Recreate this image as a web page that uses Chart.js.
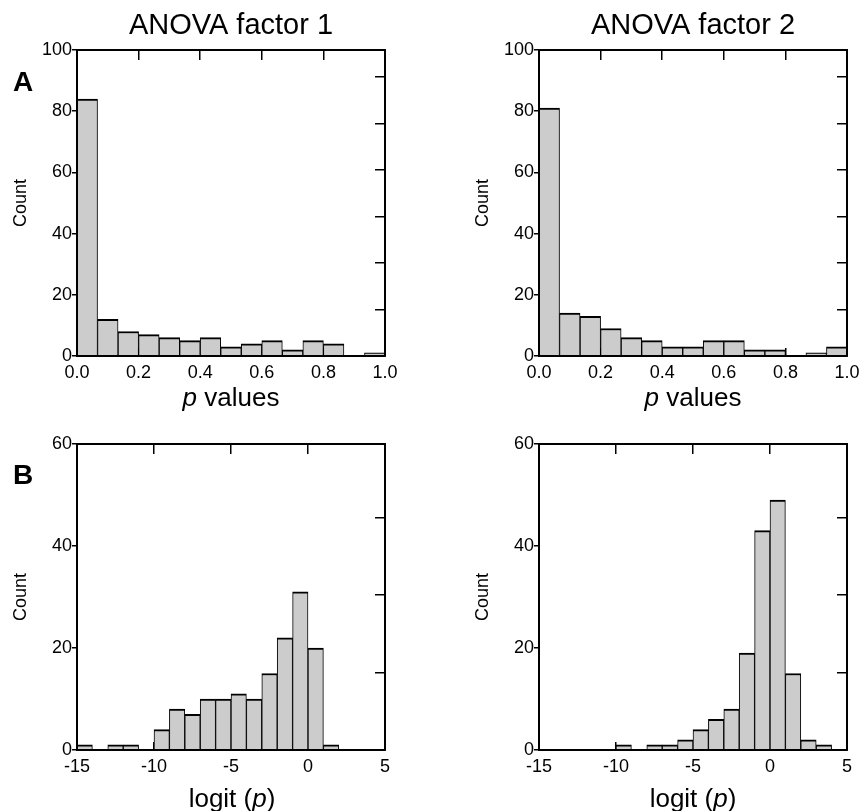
<!DOCTYPE html>
<html>
<head>
<meta charset="utf-8">
<script src="https://cdn.jsdelivr.net/npm/chart.js@4.4.1/dist/chart.umd.min.js"></script>
<style>
  body { margin: 0; background: #fff; }
  #page { position: relative; width: 861px; height: 811px; font-family: 'Liberation Sans', Arial, sans-serif; color: #000; }
  canvas { position: absolute; }
  .lbl { position: absolute; white-space: nowrap; line-height: 1; }
  .axis-title { font-size: 26px; transform: translateX(-50%); }
  .panel-letter { font-size: 28px; font-weight: bold; left: 13px; }
</style>
</head>
<body>
<div id="page">
  <canvas id="chart-tl" width="430" height="420" style="left:0;top:0"></canvas>
  <canvas id="chart-tr" width="431" height="420" style="left:430px;top:0"></canvas>
  <canvas id="chart-bl" width="430" height="391" style="left:0;top:420px"></canvas>
  <canvas id="chart-br" width="431" height="391" style="left:430px;top:420px"></canvas>

  <div class="lbl panel-letter" style="top:68px">A</div>
  <div class="lbl panel-letter" style="top:461px">B</div>

  <div class="lbl axis-title" style="left:231px;top:384px"><i>p</i> values</div>
  <div class="lbl axis-title" style="left:693px;top:384px"><i>p</i> values</div>
  <div class="lbl axis-title" style="left:232px;top:785px">logit (<i>p</i>)</div>
  <div class="lbl axis-title" style="left:693px;top:785px">logit (<i>p</i>)</div>
</div>

<script>
// Histogram bins (left edge of each bin)
const pBins = ['0.00', '0.07', '0.13', '0.20', '0.27', '0.33', '0.40', '0.47',
               '0.53', '0.60', '0.67', '0.73', '0.80', '0.87', '0.93'];
const logitBins = [-15, -14, -13, -12, -11, -10, -9, -8, -7, -6,
                   -5, -4, -3, -2, -1, 0, 1, 2, 3, 4];

// Counts per bin
const pCountsFactor1 = [84, 12, 8, 7, 6, 5, 6, 3, 4, 5, 2, 5, 4, 0, 1];
const pCountsFactor2 = [81, 14, 13, 9, 6, 5, 3, 3, 5, 5, 2, 2, 0, 1, 3];
const logitCountsFactor1 = [1, 0, 1, 1, 0, 4, 8, 7, 10, 10, 11, 10, 15, 22, 31, 20, 1, 0, 0, 0];
const logitCountsFactor2 = [0, 0, 0, 0, 0, 1, 0, 1, 1, 2, 4, 6, 8, 19, 43, 49, 15, 2, 1, 0];

// Tick values
const pTicks = [0, 0.2, 0.4, 0.6, 0.8, 1.0];
const logitTicks = [-15, -10, -5, 0, 5];
const countTicksTop = [0, 20, 40, 60, 80, 100];
const countTicksBottom = [0, 20, 40, 60];

Chart.defaults.font.family = "'Liberation Sans', Arial, sans-serif";
Chart.defaults.font.size = 18;
Chart.defaults.color = '#000';

const frame = { display: true, color: '#000', width: 2, z: 1 };

function makePanel(id, cfg) {
    const total = cfg.counts.reduce((a, b) => a + b, 0);
    const yMax = cfg.yTicks[cfg.yTicks.length - 1];
    const xMin = cfg.xTicks[0];
    const xMax = cfg.xTicks[cfg.xTicks.length - 1];
    const setTicks = arr => scale => { scale.ticks = arr.map(v => ({ value: v })); };

    return new Chart(document.getElementById(id), {
        type: 'bar',
        data: {
            labels: cfg.bins,
            datasets: [{
                data: cfg.counts,
                backgroundColor: '#cccccc',
                borderColor: '#000',
                borderWidth: { top: 2, left: 1, right: 1, bottom: 0 },
                barPercentage: 1,
                categoryPercentage: 1
            }]
        },
        options: {
            responsive: false,
            animation: false,
            events: [],
            layout: { padding: { left: cfg.padLeft, top: 0, right: 0, bottom: 0 } },
            plugins: { legend: { display: false }, tooltip: { enabled: false } },
            scales: {
                // bins, used to place the bars
                x: { type: 'category', display: false, offset: true },
                y: {
                    type: 'linear', position: 'left', min: 0, max: yMax,
                    afterBuildTicks: setTicks(cfg.yTicks),
                    ticks: { padding: 0 },
                    grid: { display: true, drawOnChartArea: false, drawTicks: true, tickLength: 5, color: '#000', lineWidth: 1.5 },
                    border: frame,
                    title: { display: true, text: 'Count', font: { size: 18 }, padding: { top: 10, bottom: 0 } },
                    afterFit: s => { s.width = 77; s.paddingTop = 0; s.paddingBottom = 0; }
                },
                // visible value axis at the bottom
                xv: {
                    type: 'linear', position: 'bottom', min: xMin, max: xMax, offset: false,
                    afterBuildTicks: setTicks(cfg.xTicks),
                    ticks: { padding: 14, maxRotation: 0, autoSkip: false, callback: cfg.fmt },
                    grid: { display: true, offset: false, drawOnChartArea: false, drawTicks: true, tickLength: -8, color: '#000', lineWidth: 1.5 },
                    border: frame,
                    afterFit: s => { s.height = cfg.bottomH; s.paddingLeft = 0; s.paddingRight = 0; }
                },
                // mirrored ticks on top
                xt: {
                    type: 'linear', position: 'top', min: xMin, max: xMax, offset: false,
                    afterBuildTicks: setTicks(cfg.xTicks),
                    ticks: { display: false },
                    grid: { display: true, offset: false, drawOnChartArea: false, drawTicks: true, tickLength: -10, color: '#000', lineWidth: 1.5 },
                    border: frame,
                    title: { display: !!cfg.title, text: cfg.title || '', font: { size: 29 }, padding: { top: 9, bottom: 0 } },
                    afterFit: s => { s.height = cfg.topH; s.paddingLeft = 0; s.paddingRight = 0; }
                },
                // fraction of total on the right, ticks only
                yr: {
                    type: 'linear', position: 'right', min: 0, max: yMax / total,
                    ticks: { display: false, stepSize: 0.1, includeBounds: false },
                    grid: { display: true, drawOnChartArea: false, drawTicks: true, tickLength: -10, color: '#000', lineWidth: 1.5 },
                    border: frame,
                    afterFit: s => { s.width = cfg.rightW; s.paddingTop = 0; s.paddingBottom = 0; }
                }
            }
        }
    });
}

const fmtP = v => v.toFixed(1);
const fmtLogit = v => String(v);

makePanel('chart-tl', {
    bins: pBins, counts: pCountsFactor1, xTicks: pTicks, yTicks: countTicksTop, fmt: fmtP,
    title: 'ANOVA factor 1', padLeft: 0, rightW: 45, topH: 50, bottomH: 64
});
makePanel('chart-tr', {
    bins: pBins, counts: pCountsFactor2, xTicks: pTicks, yTicks: countTicksTop, fmt: fmtP,
    title: 'ANOVA factor 2', padLeft: 32, rightW: 14, topH: 50, bottomH: 64
});
makePanel('chart-bl', {
    bins: logitBins, counts: logitCountsFactor1, xTicks: logitTicks, yTicks: countTicksBottom, fmt: fmtLogit,
    title: null, padLeft: 0, rightW: 45, topH: 24, bottomH: 61
});
makePanel('chart-br', {
    bins: logitBins, counts: logitCountsFactor2, xTicks: logitTicks, yTicks: countTicksBottom, fmt: fmtLogit,
    title: null, padLeft: 32, rightW: 14, topH: 24, bottomH: 61
});
</script>
</body>
</html>
